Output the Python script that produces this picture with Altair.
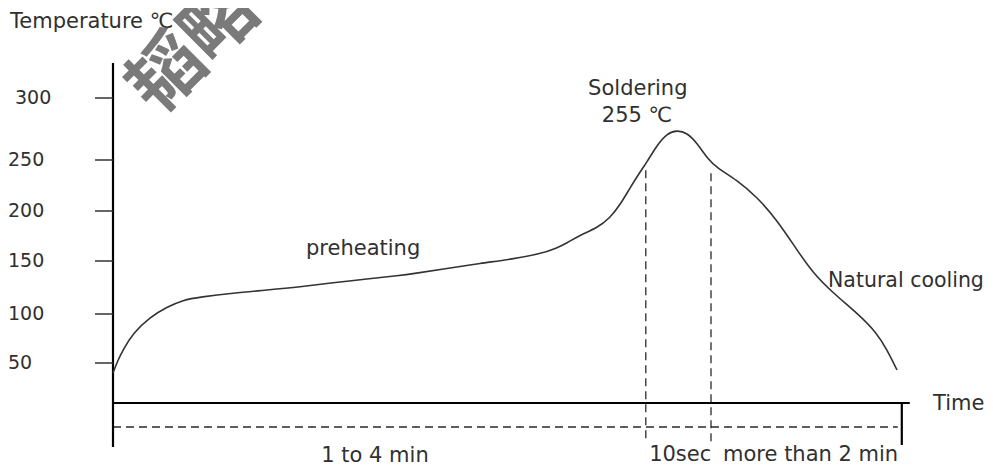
import altair as alt
import pandas as pd

# ---- data (time in arbitrary units, temperature in ℃) ----
curve_time = [0, 0.625, 1.25, 2.5, 4.625, 6.75, 8.75, 10.875, 15, 19.25, 23.375, 27.5,
              31.75, 35.875, 37.5, 41.75, 45.875, 50, 53.375, 55.5, 56.75, 58.375, 60.5,
              62.125, 63.375, 64.625, 65.875, 66.75, 68, 69.25, 70.5, 71.75, 73, 74.25,
              75.5, 78, 80.5, 83, 85.5, 87.5, 90, 93, 95.5, 96.75, 98]
curve_temp = [40, 53.1, 63.3, 80.6, 96.9, 106.6, 113.2, 116.0, 119.8, 122.6, 125.5, 129.5,
              133.0, 136.3, 138.0, 143.0, 147.8, 152, 157, 163, 168, 176, 183,
              193, 205.9, 222.6, 238.2, 248.0, 262.0, 271.5, 274.0, 272.0, 263.7, 251.6,
              242.2, 230.4, 213.7, 191, 161, 138.7, 119.8, 101.0, 80.6, 63.3, 43]

tick_values = [50, 100, 150, 200, 250, 300]
tick_labels = ["50", "100", "150", "200", "250", "300"]
tick_label_time = [-13.125, -13.125, -13.125, -13.125, -13.125, -12.25]

# axis frame segments: vertical axis, time axis, end tick of time axis
axis_t0 = [0, 0, 98.6]
axis_t1 = [0, 99.6, 98.6]
axis_y0 = [333, 10, 10]
axis_y1 = [-34, 10, -32]

# dashed guide lines: duration line, start and end of soldering window
dash_t0 = [0, 66.6, 74.75]
dash_t1 = [98.1, 66.6, 74.75]
dash_y0 = [-14, 240, 237]
dash_y1 = [-14, -29, -29]

# annotation texts
left_texts = ["Temperature ℃", "preheating", "Time"]
left_time = [-12.875, 24.125, 102.5]
left_temp = [366, 156, 3]

side_texts = ["Natural cooling"]
side_time = [89.375]
side_temp = [125.5]

center_texts = ["Soldering", "255 ℃", "1 to 4 min", "10sec", "more than 2 min"]
center_time = [65.6, 65.5, 32.75, 70.9, 87.2]
center_temp = [302.8, 280.6, -49, -48, -48]

watermark = ["韬略"]
watermark_time = [10.2]
watermark_temp = [346]

# ---- scales ----
xs = alt.Scale(domain=[-13.125, 109.0], nice=False, zero=False)
ys = alt.Scale(domain=[-50, 50, 100, 150, 200, 250, 300, 400],
               range=[455, 355, 306, 253, 203, 152, 90, -16],
               nice=False, zero=False)

curve_df = pd.DataFrame({"t": curve_time, "temp": curve_temp})
ticks_df = pd.DataFrame({"v": tick_values, "t0": [-2.25] * 6, "t1": [0] * 6})
tlab_df = pd.DataFrame({"v": tick_values, "label": tick_labels, "t": tick_label_time})
axis_df = pd.DataFrame({"t0": axis_t0, "t1": axis_t1, "y0": axis_y0, "y1": axis_y1})
dash_df = pd.DataFrame({"t0": dash_t0, "t1": dash_t1, "y0": dash_y0, "y1": dash_y1})
ltxt_df = pd.DataFrame({"label": left_texts, "t": left_time, "temp": left_temp})
stxt_df = pd.DataFrame({"label": side_texts, "t": side_time, "temp": side_temp})
ctxt_df = pd.DataFrame({"label": center_texts, "t": center_time, "temp": center_temp})
wm_df = pd.DataFrame({"label": watermark, "t": watermark_time, "temp": watermark_temp})

FONT = "DejaVu Sans"
TEXT_COLOR = "#303030"

watermark_layer = alt.Chart(wm_df).mark_text(
    font="Noto Sans CJK SC", fontSize=74, fontWeight="bold", angle=315,
    align="center", baseline="middle", color="#7a7a7a"
).encode(x=alt.X("t:Q", scale=xs, axis=None), y=alt.Y("temp:Q", scale=ys, axis=None),
         text="label:N")

curve = alt.Chart(curve_df).mark_line(
    interpolate="basis", color="#333333", strokeWidth=1.6
).encode(x=alt.X("t:Q", scale=xs, axis=None), y=alt.Y("temp:Q", scale=ys, axis=None))

axes = alt.Chart(axis_df).mark_rule(color="#000000", strokeWidth=2.2).encode(
    x=alt.X("t0:Q", scale=xs, axis=None), x2="t1:Q",
    y=alt.Y("y0:Q", scale=ys, axis=None), y2="y1:Q")

ticks = alt.Chart(ticks_df).mark_rule(color="#333333", strokeWidth=1.5).encode(
    x=alt.X("t0:Q", scale=xs, axis=None), x2="t1:Q",
    y=alt.Y("v:Q", scale=ys, axis=None))

dashes = alt.Chart(dash_df).mark_rule(
    color="#2a2a2a", strokeWidth=1.3, strokeDash=[8, 5]
).encode(x=alt.X("t0:Q", scale=xs, axis=None), x2="t1:Q",
         y=alt.Y("y0:Q", scale=ys, axis=None), y2="y1:Q")

tick_text = alt.Chart(tlab_df).mark_text(
    font=FONT, fontSize=19, align="left", baseline="middle", color=TEXT_COLOR
).encode(x=alt.X("t:Q", scale=xs, axis=None), y=alt.Y("v:Q", scale=ys, axis=None),
         text="label:N")

left_text = alt.Chart(ltxt_df).mark_text(
    font=FONT, fontSize=21, align="left", baseline="alphabetic", color=TEXT_COLOR
).encode(x=alt.X("t:Q", scale=xs, axis=None), y=alt.Y("temp:Q", scale=ys, axis=None),
         text="label:N")

side_text = alt.Chart(stxt_df).mark_text(
    font=FONT, fontSize=20.5, align="left", baseline="alphabetic", color=TEXT_COLOR
).encode(x=alt.X("t:Q", scale=xs, axis=None), y=alt.Y("temp:Q", scale=ys, axis=None),
         text="label:N")

center_text = alt.Chart(ctxt_df).mark_text(
    font=FONT, fontSize=21, align="center", baseline="alphabetic", color=TEXT_COLOR
).encode(x=alt.X("t:Q", scale=xs, axis=None), y=alt.Y("temp:Q", scale=ys, axis=None),
         text="label:N")

chart = alt.layer(
    dashes, axes, ticks, curve, tick_text, left_text, side_text, center_text,
    watermark_layer
).properties(
    width=977, height=458, autosize=alt.AutoSizeParams(type="none"), padding=0,
    background="white"
).configure_view(stroke=None)

chart.save("out.html", embed_options={"renderer": "svg", "actions": False})
